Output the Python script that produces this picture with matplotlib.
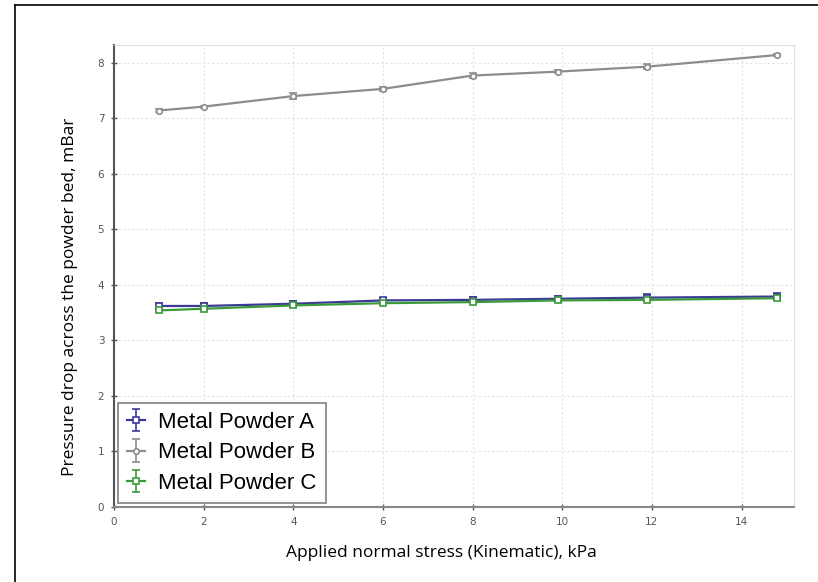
import matplotlib.pyplot as plt
from matplotlib.lines import Line2D

# applied normal stress, kPa
stress = [1, 2, 4, 6, 8, 9.9, 11.9, 14.8]

# pressure drop, mBar
powder_a = [3.62, 3.62, 3.66, 3.72, 3.73, 3.75, 3.77, 3.79]
powder_b = [7.14, 7.21, 7.40, 7.53, 7.77, 7.84, 7.93, 8.14]
powder_c = [3.54, 3.57, 3.63, 3.67, 3.69, 3.72, 3.73, 3.76]

err_a = [0.05, 0.05, 0.05, 0.05, 0.05, 0.05, 0.06, 0.06]
err_b = [0.03, 0.02, 0.05, 0.04, 0.04, 0.03, 0.05, 0.02]
err_c = [0.02, 0.02, 0.02, 0.02, 0.02, 0.02, 0.02, 0.02]

names = ['Metal Powder A', 'Metal Powder B', 'Metal Powder C']
colors = ['#3b3b96', '#8c8c8c', '#3c9a3c']
markers = ['s', 'o', 's']

fig = plt.figure(figsize=(8.18, 5.82), dpi=100)
ax = fig.add_axes([0.1394, 0.1289, 0.8313, 0.7938])

for y, e, c, m, n in zip([powder_a, powder_b, powder_c], [err_a, err_b, err_c], colors, markers, names):
    ax.errorbar(stress, y, yerr=e, color=c, marker=m, markersize=4, markerfacecolor='white',
                markeredgewidth=1.2, linewidth=1.6, capsize=3, elinewidth=1.2, label=n)

ax.set_xlim(0, 15.17)
ax.set_ylim(0, 8.32)
ax.set_xticks(range(0, 15, 2))
ax.set_yticks(range(0, 9))
ax.grid(True, linestyle=(0, (2, 2)), color='#e2e2e2', linewidth=0.8)
ax.tick_params(labelsize=7.5, colors='#555555', length=4, direction='inout', width=1, pad=5)
ax.spines['left'].set_color('#555555')
ax.spines['left'].set_linewidth(1.5)
ax.spines['bottom'].set_color('#888888')
ax.spines['bottom'].set_linewidth(1.5)
ax.spines['top'].set_color('#e0e0e0')
ax.spines['right'].set_color('#e0e0e0')

ax.set_xlabel('Applied normal stress (Kinematic), kPa', family='Open Sans', fontsize=12.5, labelpad=13)
ax.set_ylabel('Pressure drop across the powder bed, mBar', family='Open Sans', fontsize=12.5, labelpad=14)
ax.xaxis.label.set_x(0.482)
ax.yaxis.label.set_y(0.4545)

leg = ax.legend(loc='lower left', prop={'family': 'Liberation Sans', 'size': 16}, fancybox=False,
                framealpha=1, edgecolor='#808080', borderaxespad=0.2, handlelength=0.8,
                handletextpad=0.6, labelspacing=0.42, borderpad=0.4)
leg.get_frame().set_linewidth(1.2)

# outer frame lines (left and top)
fig.add_artist(Line2D([15 / 818, 15 / 818], [0, 1 - 5 / 582], color='black', linewidth=1.2))
fig.add_artist(Line2D([15 / 818, 1], [1 - 5 / 582, 1 - 5 / 582], color='black', linewidth=1.2))

fig.savefig('out.png', dpi=100)
